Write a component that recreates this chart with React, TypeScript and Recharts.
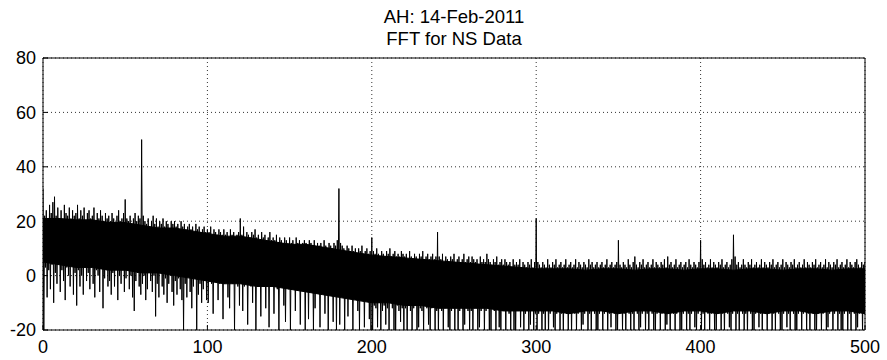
import React from 'react';
import { ComposedChart, Area, Line, XAxis, YAxis, CartesianGrid } from 'recharts';

// spectrum bins 0..500 Hz, one bin per unit, read as top / bottom of each swing
const peakHigh = [
  32, 22, 24, 21, 26, 23, 27, 29, 22, 25, 21, 24, 20, 26, 23, 22, 25, 21, 24, 22,
  23, 26, 21, 24, 22, 25, 20, 23, 24, 21, 22, 25, 20, 23, 21, 24, 22, 20, 23, 21,
  22, 20, 23, 21, 19, 22, 24, 20, 21, 23, 28, 21, 20, 22, 19, 21, 23, 20, 22, 21,
  50, 22, 20, 19, 21, 18, 20, 22, 19, 21, 18, 20, 19, 21, 18, 20, 19, 17, 20, 19,
  20, 18, 19, 17, 20, 18, 19, 17, 18, 19, 17, 18, 16, 19, 17, 18, 16, 17, 18, 16,
  17, 16, 18, 15, 17, 16, 15, 17, 16, 15, 17, 15, 16, 14, 17, 15, 16, 14, 15, 16,
  21, 15, 18, 14, 16, 15, 14, 16, 15, 17, 14, 15, 13, 16, 14, 15, 13, 14, 16, 13,
  14, 13, 15, 12, 14, 13, 12, 14, 13, 12, 14, 12, 13, 11, 14, 12, 13, 11, 12, 13,
  12, 11, 13, 12, 11, 13, 10, 12, 11, 12, 10, 13, 11, 10, 12, 11, 10, 12, 11, 13,
  32, 12, 11, 10, 9, 11, 10, 9, 11, 9, 10, 8, 10, 9, 11, 8, 9, 10, 8, 9,
  14, 9, 8, 10, 8, 7, 9, 8, 7, 9, 8, 10, 7, 8, 9, 7, 8, 7, 9, 8,
  7, 8, 6, 9, 7, 6, 8, 7, 6, 8, 7, 9, 6, 7, 8, 6, 7, 8, 6, 7,
  16, 7, 6, 8, 5, 7, 6, 5, 7, 6, 8, 5, 6, 7, 5, 6, 8, 5, 6, 7,
  5, 7, 6, 5, 6, 4, 7, 5, 6, 5, 8, 6, 5, 4, 6, 5, 7, 4, 5, 6,
  4, 6, 5, 4, 5, 3, 6, 4, 5, 4, 6, 3, 5, 4, 3, 5, 4, 6, 3, 5,
  21, 5, 4, 3, 5, 4, 3, 6, 4, 3, 5, 4, 6, 3, 4, 5, 3, 4, 6, 3,
  4, 5, 3, 4, 6, 3, 5, 4, 3, 5, 4, 3, 6, 4, 5, 3, 4, 5, 3, 4,
  5, 3, 4, 6, 3, 4, 5, 3, 4, 5, 13, 4, 3, 5, 4, 3, 6, 4, 3, 5,
  7, 4, 3, 5, 4, 6, 3, 4, 5, 3, 4, 6, 3, 5, 4, 3, 5, 4, 6, 3,
  7, 4, 5, 3, 4, 6, 3, 4, 5, 3, 4, 5, 3, 6, 4, 3, 5, 4, 3, 5,
  13, 6, 4, 5, 3, 4, 6, 3, 5, 4, 3, 5, 4, 6, 3, 4, 5, 3, 4, 6,
  15, 7, 4, 5, 3, 4, 6, 4, 3, 5, 4, 6, 3, 4, 5, 3, 4, 6, 3, 5,
  4, 3, 5, 4, 6, 3, 4, 5, 3, 4, 6, 3, 5, 4, 3, 5, 4, 6, 3, 4,
  5, 3, 4, 6, 3, 5, 4, 3, 5, 4, 6, 3, 4, 5, 3, 4, 6, 3, 5, 4,
  3, 5, 4, 6, 3, 4, 5, 3, 4, 6, 3, 5, 4, 3, 5, 6, 4, 3, 5, 4,
  5,
];

const peakLow = [
  -20, 3, -8, 2, -5, 4, -10, 1, -3, 5, -6, 2, -2, -9, 3, 0, -4, 6, -7, 1,
  -11, 2, -4, 0, -7, 3, -2, 1, -5, 4, -3, -8, 2, 0, -6, 3, -12, -1, 2, -4,
  -2, -7, 1, -4, 3, -9, 0, -3, 2, -6, -1, 3, -5, 0, -8, -13, -2, 1, -4, -7,
  -3, 0, -9, -5, 1, -2, -6, 0, -15, -3, -8, 1, -4, -7, -1, -10, -3, 0, -6, -11,
  -2, -7, -1, -5, -9, -20, -3, -8, 0, -6, -12, -4, -1, -20, -7, -3, -10, -5, -2, -9,
  -10, -2, -3, -14, -2, -1, -9, -3, -2, -16, -3, -2, -8, -12, -2, -3, -20, -2, -4, -11,
  -3, -13, -4, -2, -18, -3, -4, -10, -3, -20, -4, -3, -15, -2, -4, -12, -3, -19, -4, -3,
  -14, -4, -5, -20, -3, -4, -11, -17, -4, -5, -20, -4, -3, -13, -5, -4, -18, -4, -5, -20,
  -6, -16, -5, -6, -20, -12, -6, -5, -19, -6, -5, -14, -6, -20, -5, -6, -17, -6, -20, -5,
  -18, -7, -8, -20, -7, -15, -8, -7, -20, -8, -7, -13, -20, -8, -7, -19, -8, -7, -16, -20,
  -21, -11, -12, -19, -10, -22, -13, -11, -18, -12, -21, -10, -12, -20, -22, -11, -13, -17, -12, -21,
  -12, -22, -11, -13, -20, -12, -11, -22, -19, -12, -13, -21, -11, -12, -18, -22, -12, -11, -20, -13,
  -22, -12, -13, -21, -12, -11, -19, -22, -13, -12, -20, -12, -21, -13, -11, -22, -18, -12, -13, -21,
  -13, -21, -12, -12, -22, -19, -13, -12, -21, -13, -12, -22, -20, -12, -13, -21, -12, -19, -22, -13,
  -12, -22, -13, -14, -20, -13, -21, -22, -13, -12, -19, -13, -22, -14, -13, -21, -18, -13, -22, -14,
  -22, -14, -13, -21, -14, -20, -13, -22, -14, -13, -19, -22, -14, -13, -21, -14, -22, -13, -14, -20,
  -14, -22, -13, -14, -21, -14, -13, -22, -18, -14, -13, -21, -14, -22, -13, -14, -20, -22, -14, -13,
  -21, -14, -13, -22, -14, -19, -13, -14, -22, -21, -14, -13, -20, -14, -22, -13, -14, -21, -14, -22,
  -13, -14, -22, -19, -14, -13, -21, -14, -22, -13, -14, -20, -22, -14, -13, -21, -14, -13, -22, -18,
  -14, -22, -13, -14, -21, -14, -13, -22, -20, -14, -13, -21, -14, -22, -14, -13, -19, -22, -14, -13,
  -22, -14, -21, -13, -14, -22, -14, -13, -20, -22, -14, -13, -21, -14, -22, -13, -14, -19, -22, -14,
  -13, -21, -14, -22, -13, -14, -20, -14, -22, -13, -14, -21, -22, -14, -13, -19, -14, -22, -13, -14,
  -21, -14, -13, -22, -14, -20, -13, -14, -22, -21, -14, -13, -19, -14, -22, -13, -14, -21, -22, -14,
  -13, -22, -14, -13, -21, -14, -22, -13, -14, -20, -22, -14, -13, -21, -14, -13, -22, -19, -14, -13,
  -22, -14, -13, -21, -14, -22, -20, -14, -13, -22, -14, -21, -13, -14, -22, -19, -14, -13, -21, -14,
  -22,
];

// solid middle of the noise band, every 10 Hz
const bandTop = [
  21, 21, 20.5, 20.5, 19.5, 19.5, 18.5, 17.5, 17.5, 16.5,
  15.5, 14.5, 14.5, 13.5, 12.5, 11.5, 11.5, 10.5, 9.5, 8.5,
  7.5, 7, 6.5, 6, 5.5, 5, 4.5, 4, 3.5, 3,
  2.5, 2.5, 2.5, 2, 2.5, 2.5, 2, 2.5, 2.5, 2,
  2.5, 2.5, 2, 2.5, 2.5, 2, 2.5, 2.5, 2, 2.5,
  2.5,
];
const bandBottom = [
  5, 4, 3, 3, 2, 2, 1, 1, 0, -1,
  -2, -3, -3, -4, -4, -5, -6, -7, -8, -9,
  -10, -10, -11, -11, -12, -12, -12, -12, -13, -13,
  -13, -13, -14, -13, -13, -14, -13, -13, -14, -13,
  -13, -14, -13, -13, -14, -13, -13, -14, -13, -13,
  -14,
];

const xTicks = [0, 100, 200, 300, 400, 500];
const yTicks = [-20, 0, 20, 40, 60, 80];

// each bin swings up to its peak, then down to its trough half a bin later
const data = peakHigh.flatMap((hi, f) => [
  { f, amp: hi, band: f % 10 === 0 ? [bandBottom[f / 10], bandTop[f / 10]] : null },
  { f: f + 0.5, amp: peakLow[f], band: null },
]);

const font = '"Liberation Sans", Arial, sans-serif';

export default function App() {
  return (
    <div style={{ position: 'absolute', left: 0, top: 0, width: 887, height: 360, background: '#fff', fontFamily: font }}>
      <ComposedChart width={887} height={360} data={data} margin={{ top: 48, right: 12, left: 3, bottom: 0 }}>
        <CartesianGrid stroke="#333" strokeDasharray="1 3" xAxisId="main" yAxisId="main" />
        <XAxis
          xAxisId="main"
          dataKey="f"
          type="number"
          domain={[0, 500]}
          ticks={xTicks}
          allowDataOverflow
          height={30}
          stroke="#000"
          tickSize={-5}
          tickMargin={15}
          tick={{ fill: '#000', fontSize: 18, fontFamily: font }}
        />
        <XAxis
          xAxisId="top"
          orientation="top"
          dataKey="f"
          type="number"
          domain={[0, 500]}
          ticks={xTicks}
          height={10}
          stroke="#000"
          tickSize={-5}
          tick={false}
        />
        <YAxis
          yAxisId="main"
          type="number"
          domain={[-20, 80]}
          ticks={yTicks}
          allowDataOverflow
          width={40}
          stroke="#000"
          tickSize={-5}
          tickMargin={12}
          tick={{ fill: '#000', fontSize: 18, fontFamily: font }}
        />
        <YAxis
          yAxisId="right"
          orientation="right"
          type="number"
          domain={[-20, 80]}
          ticks={yTicks}
          width={10}
          stroke="#000"
          tickSize={-5}
          tick={false}
        />
        <Area
          xAxisId="main"
          yAxisId="main"
          type="linear"
          dataKey="band"
          connectNulls
          stroke="#000"
          strokeWidth={1}
          fill="#000"
          fillOpacity={1}
          dot={false}
          activeDot={false}
          isAnimationActive={false}
        />
        <Line
          xAxisId="main"
          yAxisId="main"
          type="linear"
          dataKey="amp"
          stroke="#000"
          strokeWidth={1}
          dot={false}
          activeDot={false}
          isAnimationActive={false}
        />
        <text x={454} y={23} textAnchor="middle" fontSize={18.5} fontFamily={font} fill="#000">
          AH: 14-Feb-2011
        </text>
        <text x={454} y={45} textAnchor="middle" fontSize={18.5} fontFamily={font} fill="#000">
          FFT for NS Data
        </text>
      </ComposedChart>
    </div>
  );
}
